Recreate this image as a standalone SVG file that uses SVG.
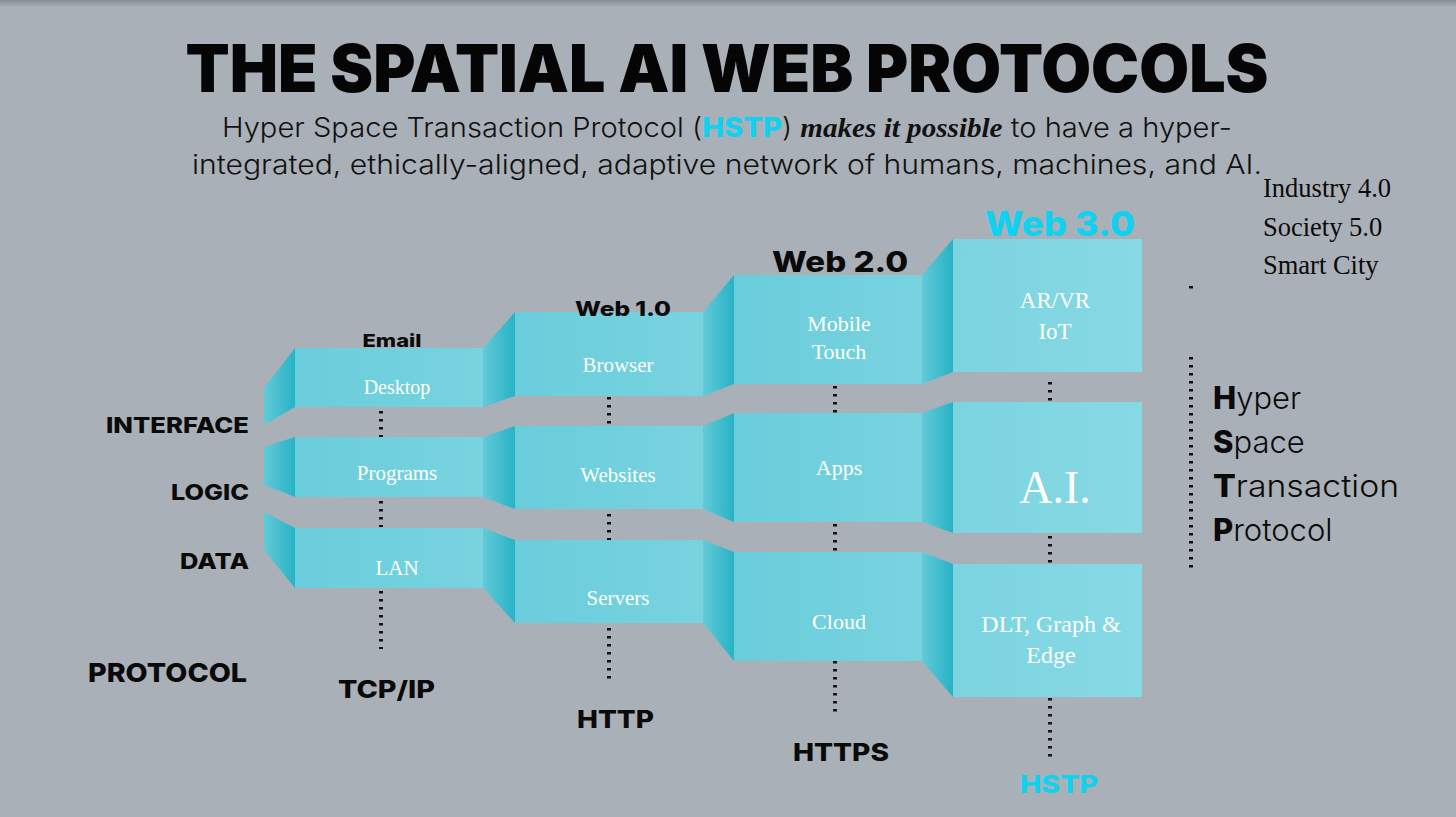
<svg xmlns="http://www.w3.org/2000/svg" width="1456" height="817" viewBox="0 0 1456 817">
<defs>
<linearGradient id="face" x1="0" y1="0" x2="1" y2="0">
<stop offset="0" stop-color="#62cad8"/>
<stop offset="1" stop-color="#28b2c6"/>
</linearGradient>
<linearGradient id="front" x1="0" y1="0" x2="1" y2="0">
<stop offset="0" stop-color="#6acddb"/>
<stop offset="1" stop-color="#78d3df"/>
</linearGradient>
<linearGradient id="front4" x1="0" y1="0" x2="1" y2="0">
<stop offset="0" stop-color="#7bd4e0"/>
<stop offset="1" stop-color="#87d9e4"/>
</linearGradient>
<linearGradient id="topband" x1="0" y1="0" x2="0" y2="1">
<stop offset="0" stop-color="#868c93"/>
<stop offset="1" stop-color="#aab0b7"/>
</linearGradient>
<style>
.bg{fill:#aab0b7}
.face{fill:url(#face)}
.front{fill:url(#front)}
.front4{fill:url(#front4)}
.node{font-family:"Liberation Serif","Times New Roman",serif;fill:#ffffff;text-anchor:middle}
.lab{font-family:Inter,"Liberation Sans",Arial,sans-serif;font-weight:800;fill:#0a0a0a}
.dots{stroke:#111;stroke-width:4;stroke-dasharray:2.5 5.5;fill:none}
.rt{font-family:"Liberation Serif","Times New Roman",serif;fill:#0a0a0a;font-size:26.5px}
.hs{font-family:Inter,"Liberation Sans",Arial,sans-serif;font-size:31px;fill:#0a0a0a;font-weight:300}
.cyan{fill:#0fd2f0}
</style>
</defs>
<rect class="bg" x="0" y="0" width="1456" height="817"/>
<rect x="0" y="0" width="1456" height="7" fill="url(#topband)"/>

<text x="727" y="92" font-family="Inter,'Liberation Sans',Arial,sans-serif" font-weight="900" font-size="66" fill="#050505" text-anchor="middle" textLength="1083" lengthAdjust="spacingAndGlyphs">THE SPATIAL AI WEB PROTOCOLS</text>
<text x="727" y="137" font-family="Inter,'Liberation Sans',Arial,sans-serif" font-weight="300" font-size="27" fill="#111" text-anchor="middle" textLength="1010" lengthAdjust="spacingAndGlyphs">Hyper Space Transaction Protocol (<tspan class="cyan" font-weight="800">HSTP</tspan>) <tspan font-family="'Liberation Serif','Times New Roman',serif" font-style="italic" font-weight="700">makes it possible</tspan> to have a hyper-</text>
<text x="727" y="174" font-family="Inter,'Liberation Sans',Arial,sans-serif" font-weight="300" font-size="27" fill="#111" text-anchor="middle" textLength="1070" lengthAdjust="spacingAndGlyphs">integrated, ethically-aligned, adaptive network of humans, machines, and AI.</text>

<g id="connectors">
<line class="dots" x1="381" y1="411" x2="381" y2="437"/>
<line class="dots" x1="381" y1="501" x2="381" y2="527"/>
<line class="dots" x1="381" y1="591" x2="381" y2="649"/>
<line class="dots" x1="609" y1="397" x2="609" y2="425"/>
<line class="dots" x1="609" y1="514" x2="609" y2="540"/>
<line class="dots" x1="609" y1="628" x2="609" y2="680"/>
<line class="dots" x1="835" y1="386" x2="835" y2="413"/>
<line class="dots" x1="835" y1="524" x2="835" y2="551"/>
<line class="dots" x1="835" y1="661" x2="835" y2="713"/>
<line class="dots" x1="1050" y1="382" x2="1050" y2="401"/>
<line class="dots" x1="1050" y1="536" x2="1050" y2="563"/>
<line class="dots" x1="1050" y1="698" x2="1050" y2="757"/>
<line class="dots" x1="1191" y1="357" x2="1191" y2="571"/>
<line class="dots" x1="1191" y1="286" x2="1191" y2="289"/>
</g>

<g id="faces">
<polygon class="face" points="264,388 295,348 295,407 264,425"/>
<polygon class="face" points="264,447 295,437 295,497 264,485"/>
<polygon class="face" points="264,512 295,528 295,588 264,550"/>
<polygon class="face" points="483,348 515,312 515,396 483,407"/>
<polygon class="face" points="483,437 515,426 515,509 483,497"/>
<polygon class="face" points="483,528 515,540 515,623 483,588"/>
<polygon class="face" points="703,312 734,275 734,384 703,396"/>
<polygon class="face" points="703,426 734,413 734,522 703,509"/>
<polygon class="face" points="703,540 734,552 734,661 703,623"/>
<polygon class="face" points="922,275 953,239 953,372 922,384"/>
<polygon class="face" points="922,413 953,402 953,533 922,522"/>
<polygon class="face" points="922,552 953,564 953,697 922,661"/>
</g>

<g id="col-email">
<text class="lab" x="392" y="347" font-size="18" text-anchor="middle" textLength="59" lengthAdjust="spacingAndGlyphs">Email</text>
</g>
<g id="desktop"><rect class="front" x="295" y="348" width="188" height="59"/><text class="node" x="397" y="394" font-size="20">Desktop</text></g>
<g id="programs"><rect class="front" x="295" y="437" width="188" height="60"/><text class="node" x="397" y="480" font-size="21">Programs</text></g>
<g id="lan"><rect class="front" x="295" y="528" width="188" height="60"/><text class="node" x="397" y="575" font-size="21">LAN</text></g>

<g id="browser"><rect class="front" x="515" y="312" width="188" height="84"/><text class="node" x="618" y="372" font-size="21">Browser</text></g>
<g id="websites"><rect class="front" x="515" y="426" width="188" height="83"/><text class="node" x="618" y="482" font-size="21">Websites</text></g>
<g id="servers"><rect class="front" x="515" y="540" width="188" height="83"/><text class="node" x="618" y="605" font-size="21">Servers</text></g>
<g id="web1"><text class="lab" x="623" y="316" font-size="20" text-anchor="middle" textLength="96" lengthAdjust="spacingAndGlyphs">Web 1.0</text></g>

<g id="mobile"><rect class="front" x="734" y="275" width="188" height="109"/><text class="node" x="839" y="331" font-size="22">Mobile</text><text class="node" x="839" y="359" font-size="22">Touch</text></g>
<g id="apps"><rect class="front" x="734" y="413" width="188" height="109"/><text class="node" x="839" y="475" font-size="22">Apps</text></g>
<g id="cloud"><rect class="front" x="734" y="552" width="188" height="109"/><text class="node" x="839" y="629" font-size="22">Cloud</text></g>
<g id="web2"><text class="lab" x="840" y="272" font-size="28" text-anchor="middle" textLength="136" lengthAdjust="spacingAndGlyphs">Web 2.0</text></g>

<g id="arvr"><rect class="front4" x="953" y="239" width="189" height="133"/><text class="node" x="1055" y="308" font-size="23">AR/VR</text><text class="node" x="1055" y="339" font-size="23">IoT</text></g>
<g id="ai"><rect class="front4" x="953" y="402" width="189" height="131"/><text class="node" x="1055" y="503" font-size="46">A.I.</text></g>
<g id="dlt"><rect class="front4" x="953" y="564" width="189" height="133"/><text class="node" x="1051" y="632" font-size="24">DLT, Graph &amp;</text><text class="node" x="1051" y="663" font-size="24">Edge</text></g>
<g id="web3"><text class="lab cyan" x="1060" y="236" font-size="34" text-anchor="middle" textLength="150" lengthAdjust="spacingAndGlyphs">Web 3.0</text></g>

<g id="row-labels">
<text class="lab" x="106" y="433" font-size="22" textLength="143" lengthAdjust="spacingAndGlyphs">INTERFACE</text>
<text class="lab" x="171" y="500" font-size="22" textLength="78" lengthAdjust="spacingAndGlyphs">LOGIC</text>
<text class="lab" x="180" y="569" font-size="22" textLength="69" lengthAdjust="spacingAndGlyphs">DATA</text>
<text class="lab" x="88" y="682" font-size="26" textLength="159" lengthAdjust="spacingAndGlyphs">PROTOCOL</text>
</g>

<g id="protocols">
<text class="lab" x="338" y="698" font-size="24" textLength="97" lengthAdjust="spacingAndGlyphs">TCP/IP</text>
<text class="lab" x="577" y="728" font-size="24" textLength="77" lengthAdjust="spacingAndGlyphs">HTTP</text>
<text class="lab" x="793" y="761" font-size="24" textLength="96" lengthAdjust="spacingAndGlyphs">HTTPS</text>
<text class="lab cyan" x="1020" y="793" font-size="24" textLength="78" lengthAdjust="spacingAndGlyphs">HSTP</text>
</g>

<g id="right-list">
<text class="rt" x="1263" y="197">Industry 4.0</text>
<text class="rt" x="1263" y="236">Society 5.0</text>
<text class="rt" x="1263" y="274">Smart City</text>
</g>

<g id="hstp-acronym">
<text class="hs" x="1213" y="409"><tspan font-weight="800">H</tspan>yper</text>
<text class="hs" x="1213" y="453"><tspan font-weight="800">S</tspan>pace</text>
<text class="hs" x="1213" y="497" textLength="186" lengthAdjust="spacingAndGlyphs"><tspan font-weight="800">T</tspan>ransaction</text>
<text class="hs" x="1213" y="541"><tspan font-weight="800">P</tspan>rotocol</text>
</g>
</svg>
